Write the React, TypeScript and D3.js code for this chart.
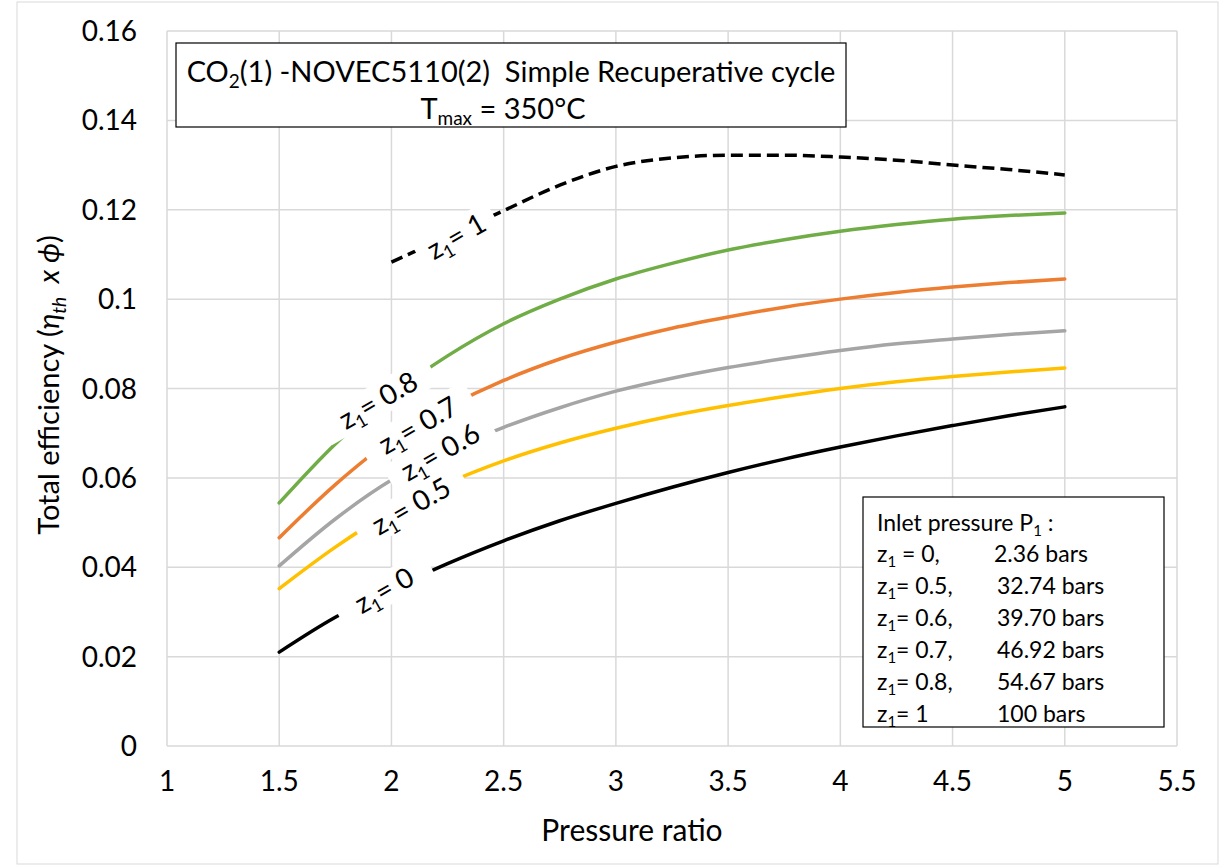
import React from "react";
import * as d3 from "d3";

// Pressure ratio sampling points
const pressureRatio = [1.5, 1.75, 2, 2.25, 2.5, 2.75, 3, 3.25, 3.5, 3.75, 4, 4.25, 4.5, 4.75, 5];
const pressureRatioZ1 = [2, 2.25, 2.5, 2.75, 3, 3.25, 3.5, 3.75, 4, 4.25, 4.5, 4.75, 5];

// Total efficiency (eta_th x phi) per CO2 mole fraction z1
const effZ0 = [0.021, 0.0288, 0.035, 0.0408, 0.0459, 0.0504, 0.0543, 0.0579, 0.0612, 0.0642, 0.0669, 0.0694, 0.0717, 0.0739, 0.0759];
const effZ05 = [0.0352, 0.0445, 0.0525, 0.0588, 0.0638, 0.0678, 0.0711, 0.0739, 0.0762, 0.0782, 0.08, 0.0815, 0.0827, 0.0837, 0.0846];
const effZ06 = [0.0403, 0.0508, 0.0595, 0.066, 0.0713, 0.0757, 0.0794, 0.0823, 0.0847, 0.0867, 0.0885, 0.09, 0.0911, 0.0921, 0.0929];
const effZ07 = [0.0466, 0.0585, 0.0685, 0.0758, 0.0818, 0.0866, 0.0904, 0.0935, 0.096, 0.0982, 0.1, 0.1015, 0.1027, 0.1037, 0.1045];
const effZ08 = [0.0544, 0.0676, 0.0785, 0.0873, 0.0945, 0.1, 0.1045, 0.108, 0.111, 0.1133, 0.1152, 0.1167, 0.1179, 0.1187, 0.1193];
const effZ1 = [0.1083, 0.114, 0.1198, 0.1255, 0.1297, 0.1316, 0.1322, 0.1322, 0.1318, 0.1311, 0.13, 0.129, 0.1278];

const xTicks = [1, 1.5, 2, 2.5, 3, 3.5, 4, 4.5, 5, 5.5];
const yTicks = [0, 0.02, 0.04, 0.06, 0.08, 0.1, 0.12, 0.14, 0.16];

const legendRows = [
  ["z", " = 0,", "2.36 bars"],
  ["z", "= 0.5,", "32.74 bars"],
  ["z", "= 0.6,", "39.70 bars"],
  ["z", "= 0.7,", "46.92 bars"],
  ["z", "= 0.8,", "54.67 bars"],
  ["z", "= 1", "100 bars"],
];

type Series = { xs: number[]; ys: number[]; color: string; dash?: string };

const series: Series[] = [
  { xs: pressureRatio, ys: effZ0, color: "#000000" },
  { xs: pressureRatio, ys: effZ05, color: "#ffc000" },
  { xs: pressureRatio, ys: effZ06, color: "#a5a5a5" },
  { xs: pressureRatio, ys: effZ07, color: "#ed7d31" },
  { xs: pressureRatio, ys: effZ08, color: "#70ad47" },
  { xs: pressureRatioZ1, ys: effZ1, color: "#000000", dash: "12,6" },
];

// Inline curve labels: value text, anchor in data space, label box width
const curveLabels = [
  { value: "0.8", x: 1.94, y: 0.0774, w: 124 },
  { value: "0.7", x: 2.118, y: 0.0718, w: 122 },
  { value: "0.6", x: 2.217, y: 0.0658, w: 116 },
  { value: "0.5", x: 2.087, y: 0.0537, w: 120 },
  { value: "0", x: 1.967, y: 0.0349, w: 104 },
  { value: "1", x: 2.288, y: 0.1141, w: 86 },
];

const FONT = "Lato, 'Open Sans', sans-serif";
const NB = "\u00a0";

export default function App() {
  const W = 1220;
  const H = 866;
  const x = d3.scaleLinear().domain([1, 5.5]).range([167, 1177]);
  const y = d3.scaleLinear().domain([0, 0.16]).range([746, 31]);

  const line = (s: Series) =>
    d3
      .line<number>()
      .x((_, i) => x(s.xs[i]))
      .y((d) => y(d))
      .curve(d3.curveMonotoneX)(s.ys) as string;

  const angle = -30;

  return (
    <svg
      width={W}
      height={H}
      style={{ position: "absolute", left: 0, top: 0, background: "#fff" }}
      fontFamily={FONT}
    >
      <rect x={17} y={2} width={1201} height={862} fill="#fff" stroke="#d9d9d9" strokeWidth={1} />

      {/* gridlines */}
      {xTicks.map((t) => (
        <line key={"gx" + t} x1={x(t)} x2={x(t)} y1={y(0.16)} y2={y(0)} stroke="#d9d9d9" strokeWidth={1.5} />
      ))}
      {yTicks.map((t) => (
        <line key={"gy" + t} x1={x(1)} x2={x(5.5)} y1={y(t)} y2={y(t)} stroke="#d9d9d9" strokeWidth={1.5} />
      ))}

      {/* tick labels */}
      {xTicks.map((t) => (
        <text key={"tx" + t} x={x(t)} y={791} textAnchor="middle" fontSize={28} fill="#000">
          {String(t)}
        </text>
      ))}
      {yTicks.map((t) => (
        <text key={"ty" + t} x={137} y={y(t) + 10} textAnchor="end" fontSize={28} fill="#000">
          {String(t)}
        </text>
      ))}

      {/* axis titles */}
      <text x={632} y={841} textAnchor="middle" fontSize={30} fill="#000">
        Pressure ratio
      </text>
      <text transform={`translate(59,385) rotate(-90)`} textAnchor="middle" fontSize={29} fill="#000">
        <tspan>Total efficiency (</tspan>
        <tspan fontStyle="italic">η</tspan>
        <tspan fontStyle="italic" fontSize={19} dy={7}>th</tspan>
        <tspan fontStyle="italic" dy={-7}>{NB + NB + "x " + "ϕ"}</tspan>
        <tspan>)</tspan>
      </text>

      {/* curves */}
      {series.map((s, i) => (
        <path
          key={"s" + i}
          d={line(s)}
          fill="none"
          stroke={s.color}
          strokeWidth={3.5}
          strokeDasharray={s.dash}
          strokeLinecap={s.dash ? "butt" : "round"}
        />
      ))}

      {/* curve label boxes */}
      {curveLabels.map((l) => (
        <rect
          key={"lb" + l.value}
          transform={`translate(${x(l.x)},${y(l.y)}) rotate(${angle})`}
          x={-l.w / 2}
          y={-16}
          width={l.w}
          height={32}
          fill="#fff"
        />
      ))}
      {curveLabels.map((l) => (
        <text
          key={"lt" + l.value}
          transform={`translate(${x(l.x)},${y(l.y)}) rotate(${angle})`}
          textAnchor="middle"
          dy={10}
          fontSize={28}
          fill="#000"
        >
          <tspan>z</tspan>
          <tspan fontSize={18} dy={6}>1</tspan>
          <tspan dy={-6}>{"= " + l.value}</tspan>
        </text>
      ))}

      {/* title box */}
      <rect x={176} y={43} width={670} height={84} fill="#fff" stroke="#000" strokeWidth={1.2} />
      <text x={511} y={82} textAnchor="middle" fontSize={29} fill="#000">
        <tspan>CO</tspan>
        <tspan fontSize={19} dy={6}>2</tspan>
        <tspan dy={-6}>{"(1) -NOVEC5110(2)" + NB + NB + "Simple Recuperative cycle"}</tspan>
      </text>
      <text x={503} y={119} textAnchor="middle" fontSize={29} fill="#000">
        <tspan>T</tspan>
        <tspan fontSize={19} dy={6}>max</tspan>
        <tspan dy={-6}>{" = 350°C"}</tspan>
      </text>

      {/* inlet pressure box */}
      <rect x={863} y={497} width={301} height={230} fill="#fff" stroke="#000" strokeWidth={1.2} />
      <text x={877} y={531} fontSize={23} fill="#000">
        <tspan>Inlet pressure P</tspan>
        <tspan fontSize={15} dy={5}>1</tspan>
        <tspan dy={-5}>{" :"}</tspan>
      </text>
      {legendRows.map((r, i) => (
        <g key={"lg" + i}>
          <text x={877} y={562 + i * 32} fontSize={23} fill="#000">
            <tspan>{r[0]}</tspan>
            <tspan fontSize={15} dy={5}>1</tspan>
            <tspan dy={-5}>{r[1]}</tspan>
          </text>
          <text x={i === 0 ? 994 : 997} y={562 + i * 32} fontSize={23} fill="#000">
            {r[2]}
          </text>
        </g>
      ))}
    </svg>
  );
}
